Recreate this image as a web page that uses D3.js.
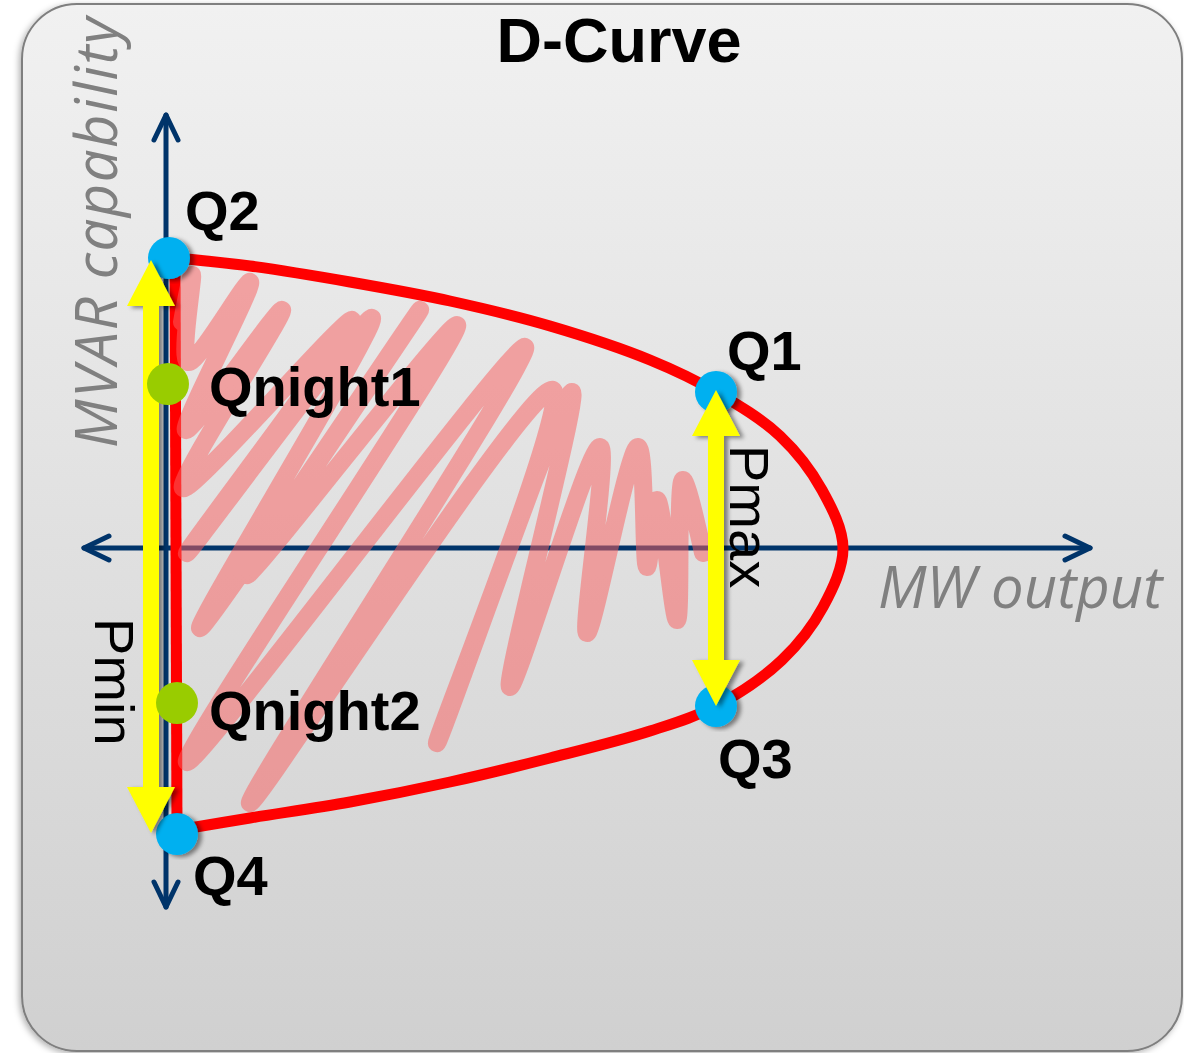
<!DOCTYPE html>
<html>
<head>
<meta charset="utf-8">
<script src="https://cdn.jsdelivr.net/npm/d3@7"></script>
<style>
html, body{
	padding: 0;
	margin: 0;
	background: #fff;
}
</style>
</head>
<body>
<svg id="chart" width="1184" height="1053"></svg>

<script>
// all values in chart units: x = MW output, y = MVAR capability
const mwAxis = [-82, 924];
const mvarAxis = [-359, 433];

// D-curve: vertical edge and outer arc (Q2 -> Q1 -> Pmax nose -> Q3 -> Q4)
const curveEdge = [[9, 290], [11, -284]];
const curveArc = [
	[10, 290], [84, 282], [184, 266], [284, 247], [384, 222], [484, 188],
	[550, 156], [614, 112], [656, 58], [677, 0], [657, -59], [616, -112],
	[550, -158], [484, -183], [384, -210], [284, -234], [184, -254], [84, -270], [12, -282]
];

const limitNames = ["Q2", "Q1", "Q3", "Q4"];
const limitMW = [3, 550, 550, 11];
const limitMVAR = [290, 156, -158, -286];

const nightNames = ["Qnight1", "Qnight2"];
const nightMW = [2, 11];
const nightMVAR = [164, -155];

const arrowNames = ["Pmin", "Pmax"];
const arrowMW = [-15, 550];
const arrowFrom = [288, 158];
const arrowTo = [-285, -158];

// hand-drawn hatching of the operating area
const scribble = [
	[16, 226], [26, 273], [22, 186], [84, 266], [20, 118], [116, 238], [17, 60],
	[186, 228], [21, -5], [206, 230], [34, -80], [254, 238], [81, -27], [291, 223],
	[21, -214], [359, 201], [84, -255], [387, 158], [271, -195], [406, 156],
	[344, -139], [434, 101], [421, -85], [472, 101], [481, -19], [491, 48],
	[511, -72], [517, 68], [537, -5]
];

const svg = d3.select('#chart');
const x = d3.scaleLinear().domain([0, 680]).range([166, 846]);
const y = d3.scaleLinear().domain([0, 290]).range([548, 258]);

const defs = svg.append('defs');
const grad = defs.append('linearGradient').attr('id', 'panelGrad')
	.attr('x1', 0).attr('y1', 0).attr('x2', 0).attr('y2', 1);
grad.append('stop').attr('offset', '0%').attr('stop-color', '#f1f1f1');
grad.append('stop').attr('offset', '100%').attr('stop-color', '#d0d0d0');

const shadow = defs.append('filter').attr('id', 'shadow')
	.attr('x', '-30%').attr('y', '-10%').attr('width', '160%').attr('height', '120%');
shadow.append('feDropShadow').attr('dx', 4).attr('dy', 2).attr('stdDeviation', 2)
	.attr('flood-color', '#000').attr('flood-opacity', 0.45);

const panelShadow = defs.append('filter').attr('id', 'panelShadow')
	.attr('x', '-5%').attr('y', '-5%').attr('width', '110%').attr('height', '110%');
panelShadow.append('feDropShadow').attr('dx', -2).attr('dy', 2).attr('stdDeviation', 3)
	.attr('flood-color', '#000').attr('flood-opacity', 0.3);

// panel
svg.append('rect')
	.attr('x', 22).attr('y', 4).attr('width', 1160).attr('height', 1047)
	.attr('rx', 55).attr('ry', 55)
	.style('fill', 'url(#panelGrad)')
	.style('stroke', '#7f7f7f').style('stroke-width', 2)
	.attr('filter', 'url(#panelShadow)');

svg.append('text')
	.attr('x', 619).attr('y', 62)
	.attr('text-anchor', 'middle')
	.style('font-family', '"Liberation Sans", Arial, sans-serif')
	.style('font-weight', 'bold').style('font-size', '63px')
	.text('D-Curve');

// axes
const axisColor = '#00346a';
const axes = svg.append('g')
	.style('stroke', axisColor).style('stroke-width', 5)
	.style('fill', 'none').style('stroke-linecap', 'round').style('stroke-linejoin', 'round');

axes.append('line')
	.attr('x1', x(mwAxis[0])).attr('x2', x(mwAxis[1]))
	.attr('y1', y(0)).attr('y2', y(0));
axes.append('line')
	.attr('x1', x(0)).attr('x2', x(0))
	.attr('y1', y(mvarAxis[1])).attr('y2', y(mvarAxis[0]));

const head = 25, spread = 12;
axes.append('path').attr('d', `M${x(mwAxis[1]) - head},${y(0) - spread}L${x(mwAxis[1])},${y(0)}L${x(mwAxis[1]) - head},${y(0) + spread}`);
axes.append('path').attr('d', `M${x(mwAxis[0]) + head},${y(0) - spread}L${x(mwAxis[0])},${y(0)}L${x(mwAxis[0]) + head},${y(0) + spread}`);
axes.append('path').attr('d', `M${x(0) - spread},${y(mvarAxis[1]) + head}L${x(0)},${y(mvarAxis[1])}L${x(0) + spread},${y(mvarAxis[1]) + head}`);
axes.append('path').attr('d', `M${x(0) - spread},${y(mvarAxis[0]) - head}L${x(0)},${y(mvarAxis[0])}L${x(0) + spread},${y(mvarAxis[0]) - head}`);

// D-curve
const lineSmooth = d3.line().x(d => x(d[0])).y(d => y(d[1])).curve(d3.curveCatmullRom.alpha(0.5));
const lineStraight = d3.line().x(d => x(d[0])).y(d => y(d[1]));

svg.append('path').datum(curveEdge)
	.attr('d', lineStraight)
	.style('fill', 'none').style('stroke', '#ff0000').style('stroke-width', 11);
svg.append('path').datum(curveArc)
	.attr('d', lineSmooth)
	.style('fill', 'none').style('stroke', '#ff0000').style('stroke-width', 11)
	.style('stroke-linecap', 'round');

// scribble
svg.append('path').datum(scribble)
	.attr('d', lineSmooth)
	.style('fill', 'none').style('stroke', 'rgb(250,96,96)').style('opacity', 0.52)
	.style('stroke-width', 18).style('stroke-linecap', 'round').style('stroke-linejoin', 'round');

// capability limit points
const limits = limitNames.map((n, i) => ({name: n, mw: limitMW[i], mvar: limitMVAR[i]}));
svg.append('g').selectAll('circle')
	.data(limits).enter().append('circle')
	.attr('cx', d => x(d.mw)).attr('cy', d => y(d.mvar)).attr('r', 21)
	.style('fill', '#00b0f0')
	.attr('filter', 'url(#shadow)');

// yellow range arrows
const arrows = arrowNames.map((n, i) => ({name: n, mw: arrowMW[i], from: arrowFrom[i], to: arrowTo[i]}));
const hl = 46, hw = 24, sw = 8;
svg.append('g').selectAll('path')
	.data(arrows).enter().append('path')
	.attr('d', d => {
		const cx = x(d.mw), t = y(d.from), b = y(d.to);
		return `M${cx},${t}L${cx + hw},${t + hl}L${cx + sw},${t + hl}L${cx + sw},${b - hl}L${cx + hw},${b - hl}` +
			`L${cx},${b}L${cx - hw},${b - hl}L${cx - sw},${b - hl}L${cx - sw},${t + hl}L${cx - hw},${t + hl}Z`;
	})
	.style('fill', '#ffff00')
	.attr('filter', 'url(#shadow)');

// night points
const nights = nightNames.map((n, i) => ({name: n, mw: nightMW[i], mvar: nightMVAR[i]}));
svg.append('g').selectAll('circle')
	.data(nights).enter().append('circle')
	.attr('cx', d => x(d.mw)).attr('cy', d => y(d.mvar)).attr('r', 21)
	.style('fill', '#99cc00');

// labels
const labelOffset = {Q2: [16, -28], Q1: [11, -22], Q3: [2, 72], Q4: [16, 61], Qnight1: [41, 22], Qnight2: [32, 27]};
svg.append('g').selectAll('text')
	.data(limits.concat(nights)).enter().append('text')
	.attr('x', d => x(d.mw) + labelOffset[d.name][0])
	.attr('y', d => y(d.mvar) + labelOffset[d.name][1])
	.style('font-family', '"Liberation Sans", Arial, sans-serif')
	.style('font-weight', 'bold').style('font-size', '56px')
	.text(d => d.name);

const arrowLabelOffset = {Pmin: [-56, 358], Pmax: [14, 55]};
svg.append('g').selectAll('text')
	.data(arrows).enter().append('text')
	.attr('transform', d => `translate(${x(d.mw) + arrowLabelOffset[d.name][0]},${y(d.from) + arrowLabelOffset[d.name][1]}) rotate(90)`)
	.style('font-family', '"Liberation Sans", Arial, sans-serif')
	.style('font-size', '56px')
	.text(d => d.name);

// axis titles
svg.append('text')
	.attr('x', 878).attr('y', 608)
	.style('font-family', '"Open Sans", sans-serif').style('font-style', 'italic')
	.style('font-size', '58px').style('fill', '#808080')
	.text('MW output');

svg.append('text')
	.attr('transform', 'translate(117,448) rotate(-90)')
	.style('font-family', '"Open Sans", sans-serif').style('font-style', 'italic')
	.style('font-size', '58px').style('fill', '#808080')
	.style('letter-spacing', '1.5px')
	.text('MVAR capability');
</script>
</body>
</html>
